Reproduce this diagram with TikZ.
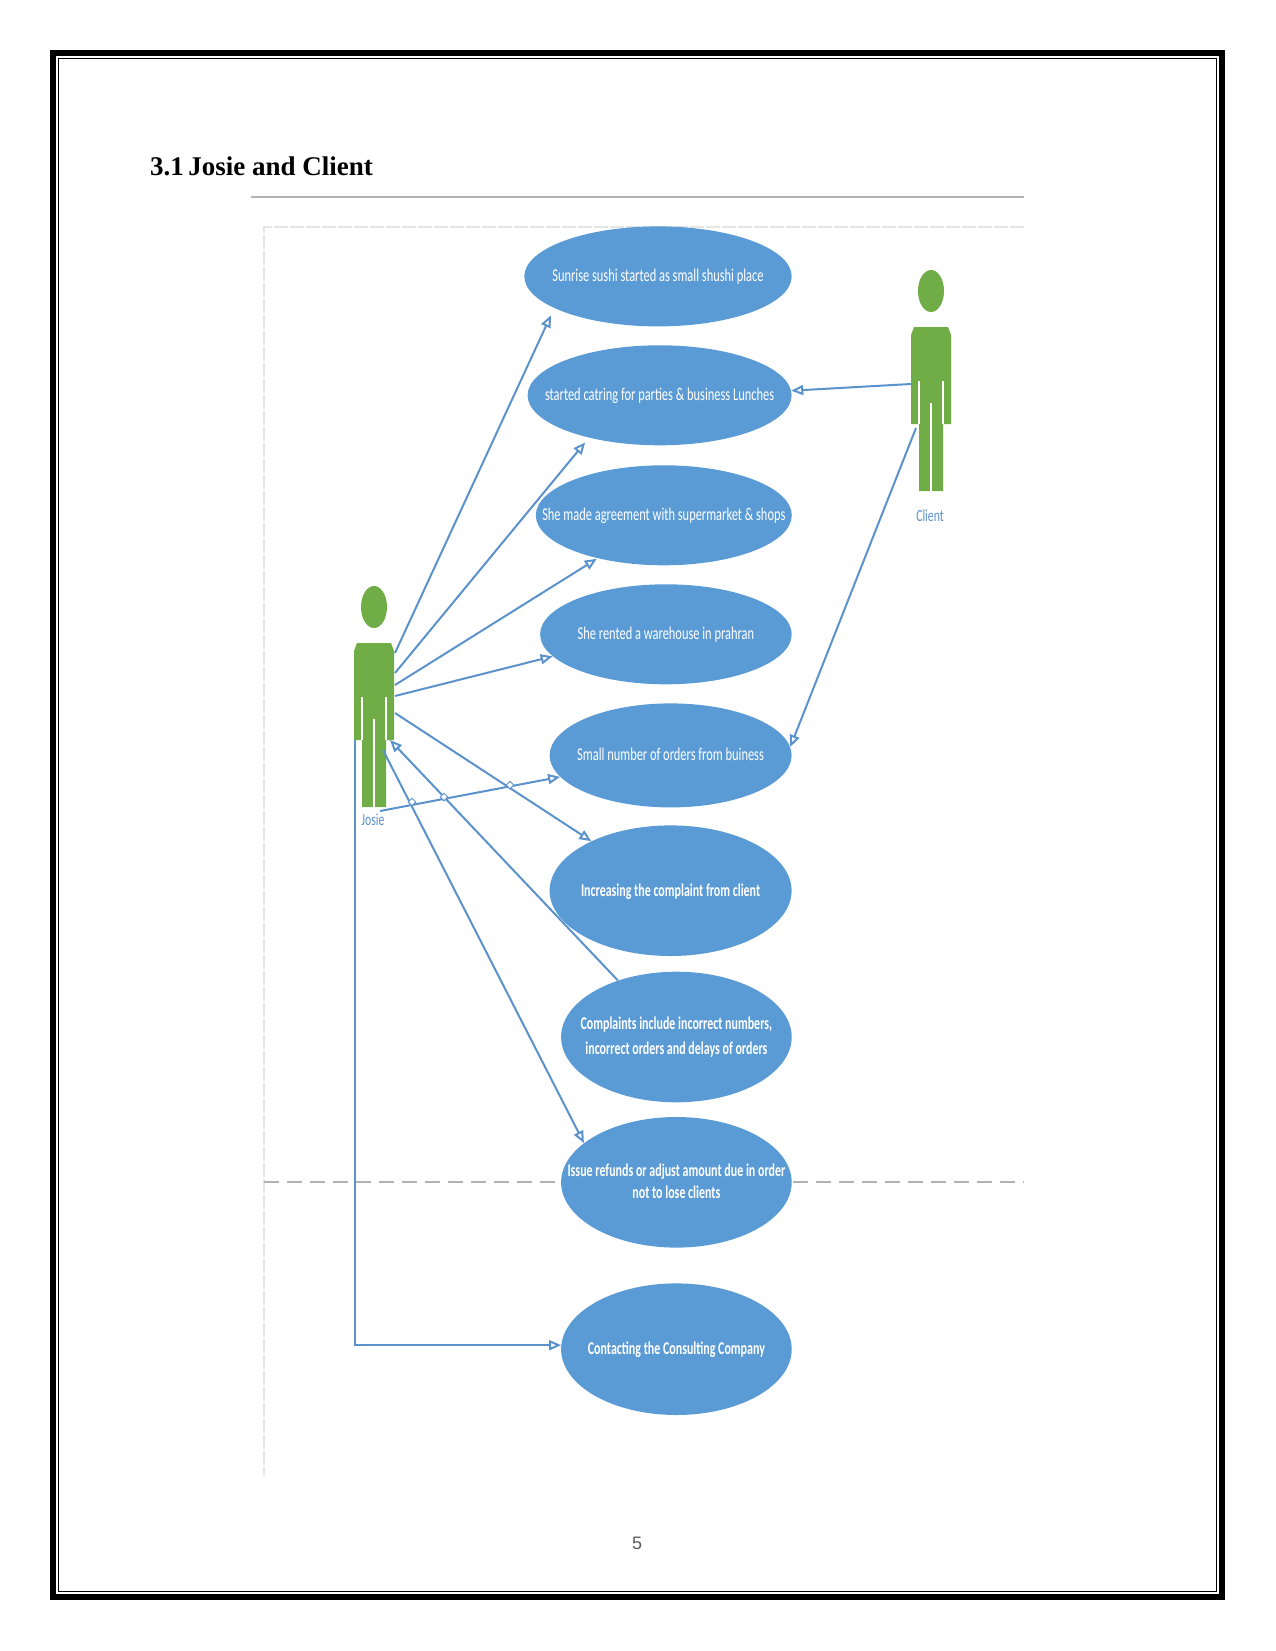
\documentclass[tikz,border=0pt]{standalone}
\usepackage{fontspec}
\setmainfont{Liberation Serif}
\newfontfamily\casefont[FakeStretch=0.69,BoldFeatures={FakeStretch=0.665}]{Carlito}
\newfontfamily\pagefont{Liberation Sans}
\usetikzlibrary{arrows.meta,shapes.geometric}

\definecolor{caseblue}{HTML}{5B9BD5}
\definecolor{lineblue}{HTML}{5B92CC}
\definecolor{actorgreen}{HTML}{70AD47}

\newcommand{\casetext}[2][-5pt]{\raisebox{#1}[0pt][0pt]{\makebox[0pt]{#2}}}

\tikzset{
    usecase/.style={ellipse,fill=caseblue,inner sep=0pt,text=white,align=center,
        minimum width=#1,font=\casefont\fontsize{18}{25}\selectfont},
    assoc/.style={lineblue,line width=2pt,-{Triangle[open,length=12pt,width=10pt]}},
    jumpmark/.style={diamond,draw=lineblue,fill=white,line width=1pt,inner sep=0pt,minimum size=8pt},
    actorlabel/.style={text=lineblue,font=\casefont\fontsize{17}{17}\selectfont},
    actor/.pic={
        \fill[actorgreen] (0,0) ellipse (13 and 21);
        \fill[actorgreen] (-17,36) -- (17,36) -- (20,44) -- (20,133) -- (12,133) -- (12,200)
            -- (-12,200) -- (-12,133) -- (-20,133) -- (-20,44) -- cycle;
        \draw[white,line width=1.4pt] (-12,90) -- (-12,133);
        \draw[white,line width=1.4pt] (12,90) -- (12,133);
        \draw[white,line width=1.4pt] (0,112) -- (0,200);
    }
}

\begin{document}
\begin{tikzpicture}[x=1pt,y=-1pt]

    \useasboundingbox (0,0) rectangle (1275,1651);

    \draw[line width=6pt] (53,53) rectangle (1222,1597);
    \draw[line width=1pt] (58.5,58.5) rectangle (1216.5,1591.7);

    \node[anchor=base west,inner sep=0pt,font=\bfseries\fontsize{27}{27}\selectfont] (title) at (150,175.5) {3.1\,Josie and Client};
    \node[inner sep=0pt,text=black!65,font=\pagefont\fontsize{18}{18}\selectfont] (pagenum) at (637,1543) {5};

    \draw[black!30,line width=2pt] (251,197) -- (1024,197);
    \draw[black!10,line width=2pt,dash pattern=on 14pt off 2pt] (1024,227) -- (264,227) -- (264,1475);
    \draw[black!30,line width=2pt,dash pattern=on 15pt off 8pt] (264,1182) -- (1024,1182);

    \node[usecase=267.4pt,minimum height=100pt] (sunrise) at (658,276.4) {\casetext{Sunrise sushi started as small shushi place}};
    \node[usecase=264pt,minimum height=100pt] (catering) at (659.6,395.3) {\casetext{started catring for parties \& business Lunches}};
    \node[usecase=256pt,minimum height=100pt] (agreement) at (663.8,515.3) {\casetext{She made agreement with supermarket \& shops}};
    \node[usecase=251.6pt,minimum height=100pt] (warehouse) at (665.9,634.3) {\casetext{She rented a warehouse in prahran}};
    \node[usecase=242pt,minimum height=104pt] (orders) at (670.6,755.4) {\casetext{Small number of orders from buiness}};
    \node[usecase=242pt,minimum height=130.6pt] (complaint) at (670.6,890.7) {\casetext[-6pt]{\bfseries Increasing the complaint from client}};
    \node[usecase=230.6pt,minimum height=130.6pt] (include) at (676.4,1037) {\casetext{\bfseries Complaints include incorrect numbers,}\\ \casetext{\bfseries incorrect orders and delays of orders}};
    \node[usecase=230.6pt,minimum height=130.6pt] (refunds) at (676.4,1182.3) {\casetext{\bfseries Issue refunds or adjust amount due in order}\\[-3pt] \casetext{\bfseries not to lose clients}};
    \node[usecase=230.6pt,minimum height=131.6pt] (contacting) at (676.4,1349.2) {\casetext{\bfseries Contacting the Consulting Company}};

    \pic at (374,607) {actor};
    \pic at (931,291) {actor};
    \node[actorlabel] (josie) at (373,820) {Josie};
    \node[actorlabel] (client) at (930,516) {Client};

    \coordinate (josieA) at (395,653);
    \coordinate (josieB) at (395,673);
    \coordinate (josieC) at (395,685);
    \coordinate (josieD) at (395,696);
    \coordinate (josieE) at (380,811);
    \coordinate (josieF) at (395,713);
    \coordinate (josieG) at (390,740);
    \coordinate (josieH) at (383,750);
    \coordinate (josieI) at (355,740);
    \coordinate (clientA) at (911,384);
    \coordinate (clientB) at (916,428);

    \draw[assoc,shorten >=8pt] (josieA) -- (sunrise.197.6);
    \draw[assoc,shorten >=6pt] (josieB) -- (catering.211);
    \draw[assoc,shorten >=1pt] (josieC) -- (agreement.213);
    \draw[assoc] (josieD) -- (warehouse.191);
    \draw[assoc] (josieE) -- (orders.191);
    \draw[assoc] (josieF) -- (complaint.148);
    \draw[assoc] (include.136) -- (josieG);
    \draw[assoc] (josieH) -- (refunds.157);
    \draw[assoc] (josieI) |- (contacting.178);
    \draw[assoc] (clientA) -- (catering.2);
    \draw[assoc] (clientB) -- (orders.4);

    \node[jumpmark] (jumpA) at (412,802) {};
    \node[jumpmark] (jumpB) at (444,797) {};
    \node[jumpmark] (jumpC) at (510,785) {};

\end{tikzpicture}
\end{document}
